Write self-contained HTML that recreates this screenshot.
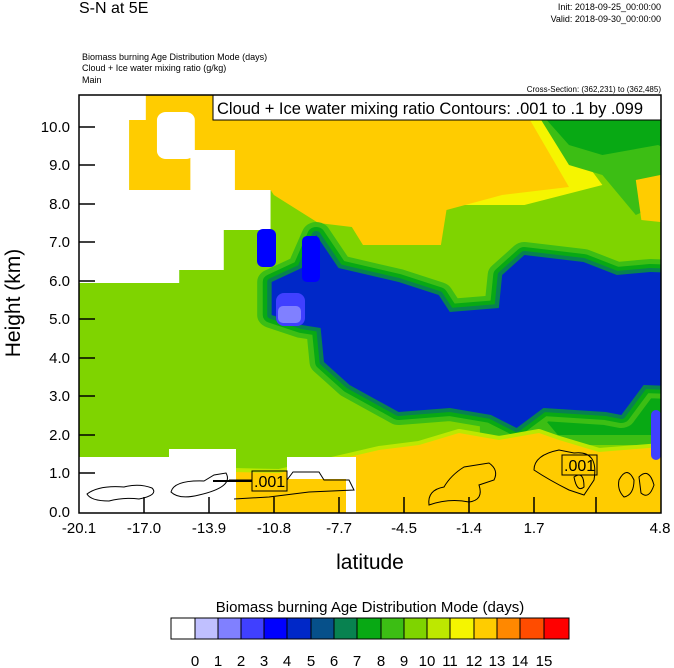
<!DOCTYPE html>
<html><head><style>body{margin:0;background:#fff}svg{display:block}text{font-family:"Liberation Sans",sans-serif}</style></head><body>
<svg width="674" height="668" viewBox="0 0 674 668">
<text x="79" y="13" font-size="16">S-N at 5E</text>
<text x="661" y="10" font-size="9" text-anchor="end">Init: 2018-09-25_00:00:00</text>
<text x="661" y="22" font-size="9" text-anchor="end">Valid: 2018-09-30_00:00:00</text>
<text x="82" y="60" font-size="9">Biomass burning Age Distribution Mode   (days)</text>
<text x="82" y="71" font-size="9">Cloud + Ice water mixing ratio   (g/kg)</text>
<text x="82" y="83" font-size="9">Main</text>
<text x="661" y="92" font-size="8" text-anchor="end">Cross-Section: (362,231) to (362,485)</text>
<g transform="translate(79,95)">
<svg width="582" height="418" viewBox="0 0 582 418">
<rect width="582" height="418" fill="#7fd400"/>
<g transform="scale(1.1136,1)">
<polygon points="0,175 90,175 90,188 0,188" fill="#3cbe14"/>
<polygon points="350,0 430,0 450,60 470,90 400,110 340,110" fill="#f5f500"/>
<polygon points="45,0 360,0 360,25 405,25 440,92 380,100 330,115 325,150 255,150 245,132 215,128 175,100 172,95 45,95" fill="#ffcc00"/>
<polygon points="415,25 450,20 470,0 582,0 582,80 560,95 520,110 500,120 470,80 440,70" fill="#3cbe14"/>
<polygon points="420,25 450,15 470,0 560,0 560,40 540,60 520,50 470,60 440,50" fill="#08a914"/>
<polygon points="500,85 522,80 522,127 505,125" fill="#ffcc00"/>
<polygon points="360,270 582,260 582,350 360,350" fill="#3cbe14"/>
<polygon points="400,300 582,290 582,340 430,340" fill="#08a914"/>
<g stroke-linejoin="round">
<polygon points="173,187 200,173 213,140 233,173 287,187 323,200 333,217 377,213 380,180 400,160 453,167 483,180 513,177 582,180 582,293 507,290 487,320 473,317 417,313 393,333 370,320 333,313 287,317 243,290 220,267 217,233 200,230 173,220" fill="#3cbe14" stroke="#3cbe14" stroke-width="26"/>
<polygon points="173,187 200,173 213,140 233,173 287,187 323,200 333,217 377,213 380,180 400,160 453,167 483,180 513,177 582,180 582,293 507,290 487,320 473,317 417,313 393,333 370,320 333,313 287,317 243,290 220,267 217,233 200,230 173,220" fill="#08a914" stroke="#08a914" stroke-width="16"/>
<polygon points="173,187 200,173 213,140 233,173 287,187 323,200 333,217 377,213 380,180 400,160 453,167 483,180 513,177 582,180 582,293 507,290 487,320 473,317 417,313 393,333 370,320 333,313 287,317 243,290 220,267 217,233 200,230 173,220" fill="#088250" stroke="#088250" stroke-width="8"/>
<polygon points="173,187 200,173 213,140 233,173 287,187 323,200 333,217 377,213 380,180 400,160 453,167 483,180 513,177 582,180 582,293 507,290 487,320 473,317 417,313 393,333 370,320 333,313 287,317 243,290 220,267 217,233 200,230 173,220" fill="#0028c8"/>
</g>
<polygon points="0,188 90,188 90,175 130,175 130,135 172,135 172,95 140,95 140,55 100,55 100,95 45,95 45,25 60,25 60,0 0,0" fill="#fff"/>
<rect x="70" y="17" width="34" height="47" rx="8" fill="#fff"/>
</g>
<polygon points="155,377 200,378 270,362 300,355 340,350 380,338 420,345 460,338 480,345 520,357 582,352 582,418 155,418" fill="#f5f500" stroke="#bde800" stroke-width="8" stroke-linejoin="round"/>
<polygon points="155,377 200,378 270,362 300,355 340,350 380,338 420,345 460,338 480,345 520,357 582,352 582,418 155,418" fill="#ffcc00"/>
<rect x="572" y="315" width="10" height="50" rx="5" fill="#4040ff"/>
<polygon points="0,362 90,362 90,354 157,354 157,418 0,418" fill="#fff"/>
<rect x="208" y="362" width="62" height="22" fill="#fff"/>
<rect x="267" y="362" width="10" height="56" fill="#fff"/>
<g fill="none" stroke="#000" stroke-width="1">
<path d="M8,399 Q20,390 45,392 Q60,388 73,393 Q80,400 60,404 Q45,402 30,406 Q12,406 8,399Z"/>
<path d="M92,397 Q95,385 125,386 L135,380 L147,378 Q155,392 120,400 Q100,405 92,397Z"/>
<path d="M150,385 L173,385"/>
<path d="M208,385 L214,377 L240,377 L245,385 L270,385 L275,395 L230,397 L190,402 L155,404"/>
<path d="M350,410 Q348,395 365,392 Q372,380 385,372 L410,368 Q420,375 415,385 L400,390 Q405,405 390,407 Q370,403 350,410Z"/>
<path d="M455,375 Q455,360 480,355 L495,358 Q520,355 515,385 L505,400 L490,395 Q470,385 455,375Z"/>
<path d="M495,382 Q505,375 505,392 Q498,398 495,382Z"/>
<path d="M540,385 Q548,370 555,385 Q555,400 545,402 Q538,395 540,385Z"/>
<path d="M560,382 Q570,372 575,390 Q570,405 562,398Z"/>
</g>
<path d="M134,386 L173,386" stroke="#000" stroke-width="2"/>
<rect x="173" y="376" width="35" height="20" fill="none" stroke="#000"/>
<text x="175" y="392" font-size="16">.001</text>
<rect x="483" y="360" width="35" height="20" fill="none" stroke="#000"/>
<text x="485" y="376" font-size="16">.001</text>
<rect x="178" y="134" width="19" height="38" rx="6" fill="#0000ff"/>
<rect x="223" y="141" width="18" height="46" rx="5" fill="#0000ff"/>
<rect x="197" y="198" width="29" height="33" rx="8" fill="#4040ff"/>
<rect x="199" y="211" width="23" height="17" rx="5" fill="#8080ff"/>
<rect x="134" y="0" width="448" height="25" fill="#fff" stroke="#000"/>
<text x="138" y="19" font-size="16.5">Cloud + Ice water mixing ratio Contours: .001 to .1 by .099</text>
<g stroke="#000" stroke-width="1.5">
<path d="M0,32h16M0,70h16M0,109h16M0,147h16M0,186h16M0,224h16M0,263h16M0,301h16M0,340h16M0,378h16"/>
<path d="M65,418v-16M130,418v-16M195,418v-16M260,418v-16M325,418v-16M390,418v-16M455,418v-16M517,418v-16"/>
</g>
</svg>
<rect x="0" y="0" width="582" height="418" fill="none" stroke="#000" stroke-width="1.5"/>
</g>
<g font-size="15" text-anchor="end">
<text x="70" y="132">10.0</text><text x="70" y="170">9.0</text><text x="70" y="209">8.0</text><text x="70" y="247">7.0</text><text x="70" y="286">6.0</text><text x="70" y="324">5.0</text><text x="70" y="363">4.0</text><text x="70" y="401">3.0</text><text x="70" y="440">2.0</text><text x="70" y="478">1.0</text><text x="70" y="517">0.0</text>
</g>
<g font-size="15" text-anchor="middle">
<text x="79" y="533">-20.1</text><text x="144" y="533">-17.0</text><text x="209" y="533">-13.9</text><text x="274" y="533">-10.8</text><text x="339" y="533">-7.7</text><text x="404" y="533">-4.5</text><text x="469" y="533">-1.4</text><text x="534" y="533">1.7</text><text x="660" y="533">4.8</text>
</g>
<text x="370" y="569" font-size="21" text-anchor="middle">latitude</text>
<text transform="translate(20,303) rotate(-90)" font-size="21" text-anchor="middle">Height (km)</text>
<text x="370" y="612" font-size="15" text-anchor="middle">Biomass burning Age Distribution Mode  (days)</text>
<g stroke="#000" stroke-width="1">
<rect x="171" y="618" width="24" height="21" fill="#fff"/>
<rect x="195" y="618" width="23" height="21" fill="#c0c0ff"/>
<rect x="218" y="618" width="23" height="21" fill="#8080ff"/>
<rect x="241" y="618" width="23" height="21" fill="#4040ff"/>
<rect x="264" y="618" width="23" height="21" fill="#0000ff"/>
<rect x="287" y="618" width="24" height="21" fill="#0028c8"/>
<rect x="311" y="618" width="23" height="21" fill="#06508a"/>
<rect x="334" y="618" width="23" height="21" fill="#088250"/>
<rect x="357" y="618" width="24" height="21" fill="#08a914"/>
<rect x="381" y="618" width="23" height="21" fill="#3cbe14"/>
<rect x="404" y="618" width="23" height="21" fill="#7fd400"/>
<rect x="427" y="618" width="23" height="21" fill="#bde800"/>
<rect x="450" y="618" width="24" height="21" fill="#f5f500"/>
<rect x="474" y="618" width="23" height="21" fill="#ffcc00"/>
<rect x="497" y="618" width="23" height="21" fill="#ff8800"/>
<rect x="520" y="618" width="24" height="21" fill="#ff4c00"/>
<rect x="544" y="618" width="25" height="21" fill="#ff0000"/>
</g>
<g font-size="15" text-anchor="middle">
<text x="195" y="666">0</text><text x="218" y="666">1</text><text x="241" y="666">2</text><text x="264" y="666">3</text><text x="287" y="666">4</text><text x="311" y="666">5</text><text x="334" y="666">6</text><text x="357" y="666">7</text><text x="381" y="666">8</text><text x="404" y="666">9</text><text x="427" y="666">10</text><text x="450" y="666">11</text><text x="474" y="666">12</text><text x="497" y="666">13</text><text x="520" y="666">14</text><text x="544" y="666">15</text>
</g>
</svg>
</body></html>
